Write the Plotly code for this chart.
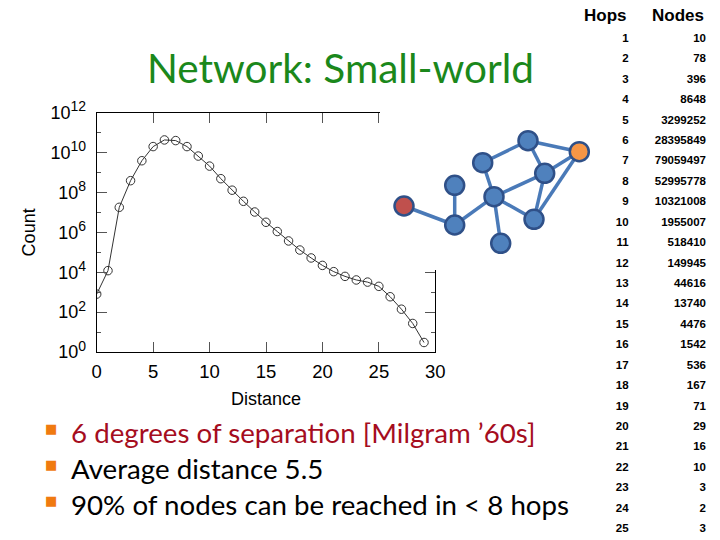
import plotly.graph_objects as go

# ---- data: distance distribution ----
distance = list(range(0, 30))
count = [800, 1.2e4, 1.8e7, 3.9e8, 3.9e9, 2.0e10, 4.3e10, 4.0e10, 2.0e10, 6.7e9,
         2.1e9, 4.9e8, 1.3e8, 3.6e7, 1.05e7, 3.2e6, 1.1e6, 3.7e5, 1.3e5, 5.2e4,
         2.2e4, 1.07e4, 6.2e3, 4.1e3, 3.2e3, 1.96e3, 590, 140, 27, 3]

y_exponents = list(range(0, 13))
y_major = [10 ** e for e in y_exponents if e % 2 == 0]
y_major_text = ["10<sup><span style='font-size:14px'>%d</span></sup>" % e
                for e in y_exponents if e % 2 == 0]
y_minor = [10 ** e for e in y_exponents if e % 2 == 1]
x_ticks = [0, 5, 10, 15, 20, 25, 30]

# ---- data: table ----
hops = list(range(1, 26))
nodes = [10, 78, 396, 8648, 3299252, 28395849, 79059497, 52995778, 10321008,
         1955007, 518410, 149945, 44616, 13740, 4476, 1542, 536, 167, 71, 29,
         16, 10, 3, 2, 3]

# ---- data: small network illustration (layout units, y up) ----
node_x = [0.0, 50.7, 50.7, 78.7, 90.0, 96.7, 124.0, 140.7, 130.0, 175.3]
node_y = [0.0, 20.7, -19.0, 43.3, 9.3, -37.3, 65.3, 32.7, -13.3, 54.3]
node_color = ["#c0504d", "#4f81bd", "#4f81bd", "#4f81bd", "#4f81bd",
              "#4f81bd", "#4f81bd", "#4f81bd", "#4f81bd", "#f79646"]
edges = [(0, 2), (1, 2), (2, 4), (3, 4), (4, 5), (4, 7), (4, 8), (3, 6),
         (6, 7), (6, 9), (7, 9), (7, 8), (8, 9)]

bullets = ["6 degrees of separation [Milgram \u201960s]",
           "Average distance 5.5",
           "90% of nodes can be reached in < 8 hops"]
bullet_colors = ["#a50d1e", "#000000", "#000000"]

W, H = 720, 540
fig = go.Figure()

# main chart
fig.add_trace(go.Scatter(
    x=distance, y=count, mode="lines+markers",
    line=dict(color="#333333", width=1),
    marker=dict(symbol="circle-open", size=8.5, color="#333333", line=dict(width=1)),
    xaxis="x", yaxis="y", showlegend=False, hoverinfo="skip"))

# network edges
ex, ey = [], []
for a, b in edges:
    ex += [node_x[a], node_x[b], None]
    ey += [node_y[a], node_y[b], None]
fig.add_trace(go.Scatter(x=ex, y=ey, mode="lines",
                         line=dict(color="#4a7ab8", width=3.5),
                         xaxis="x2", yaxis="y2", showlegend=False, hoverinfo="skip"))
fig.add_trace(go.Scatter(x=node_x, y=node_y, mode="markers",
                         marker=dict(size=19, color=node_color,
                                     line=dict(color="#2f5088", width=2.5)),
                         xaxis="x2", yaxis="y2", showlegend=False, hoverinfo="skip"))

# table columns
tfont = dict(family="Liberation Sans", size=11.5, color="#000000")
fig.add_trace(go.Scatter(x=[0] * len(hops), y=hops, mode="text",
                         text=["<b>%d</b>" % h for h in hops],
                         textposition="middle left", textfont=tfont,
                         xaxis="x3", yaxis="y3", showlegend=False, hoverinfo="skip"))
fig.add_trace(go.Scatter(x=[1] * len(nodes), y=hops, mode="text",
                         text=["<b>%d</b>" % n for n in nodes],
                         textposition="middle left", textfont=tfont,
                         xaxis="x3", yaxis="y3", showlegend=False, hoverinfo="skip"))

axis_common = dict(showline=True, linecolor="#000000", linewidth=1, mirror="allticks",
                   ticks="inside", tickcolor="#555555", showgrid=False, zeroline=False,
                   automargin=False)

x0, x1, yb, yt = 96.7, 435.3, 352, 112.7
fig.update_layout(
    width=W, height=H, autosize=False,
    margin=dict(l=0, r=0, t=0, b=0, pad=0, autoexpand=False),
    paper_bgcolor="white", plot_bgcolor="white",
    xaxis=dict(domain=[x0 / W, x1 / W], range=[0, 30], tickvals=x_ticks, ticklen=10,
               tickfont=dict(family="Liberation Sans", size=18.5, color="#000000"),
               title=dict(text="Distance", font=dict(family="Liberation Sans", size=18,
                                                      color="#000000"),
                          standoff=11),
               ticklabelstandoff=3, **axis_common),
    yaxis=dict(domain=[1 - yb / H, 1 - yt / H], type="log", range=[0, 12],
               tickvals=y_major, ticktext=y_major_text, ticklen=10,
               tickfont=dict(family="Liberation Sans", size=18, color="#000000"),
               minor=dict(tickvals=y_minor, ticks="inside", ticklen=4, tickcolor="#555555"),
               title=dict(text="Count", font=dict(family="Liberation Sans", size=18,
                                                   color="#000000"),
                          standoff=10),
               ticklabelstandoff=6, **axis_common),
    xaxis2=dict(domain=[380 / W, 600 / W], range=[-24, 196], visible=False),
    yaxis2=dict(domain=[1 - 270 / H, 1 - 110 / H], range=[-64, 96], visible=False),
    xaxis3=dict(domain=[590 / W, 1], range=[-0.5, 1.0 + 14 / 77], visible=False),
    yaxis3=dict(domain=[0, 1], range=[25.53, -0.91], visible=False),
)

# table header
for col, label in [(0, "Hops"), (1, "Nodes")]:
    fig.add_annotation(x=col, y=-0.175, xref="x3", yref="y3", text="<b>%s</b>" % label,
                       showarrow=False, xanchor="right", yanchor="middle",
                       font=dict(family="Liberation Sans", size=17, color="#000000"))

# title
fig.add_annotation(x=340 / W, y=1 - 68 / H, xref="paper", yref="paper",
                   text="Network: Small-world", showarrow=False,
                   xanchor="center", yanchor="middle",
                   font=dict(family="Lato", size=40.5, color="#1b881b"))

# bullets
for i, (txt, col) in enumerate(zip(bullets, bullet_colors)):
    yc = 1 - (432 + 36 * i) / H
    fig.add_annotation(x=51 / W, y=yc + 4 / H, xref="paper", yref="paper", text="\u25a0",
                       showarrow=False, xanchor="center", yanchor="middle",
                       font=dict(family="DejaVu Sans", size=13, color="#f07a10"))
    fig.add_annotation(x=68.5 / W, y=yc, xref="paper", yref="paper", text=txt,
                       showarrow=False, xanchor="left", yanchor="middle",
                       font=dict(family="Lato", size=27.7, color=col))

fig.write_html("out.html", config={"displayModeBar": False},
               post_script="document.body.style.margin='0';document.body.style.padding='0';")
